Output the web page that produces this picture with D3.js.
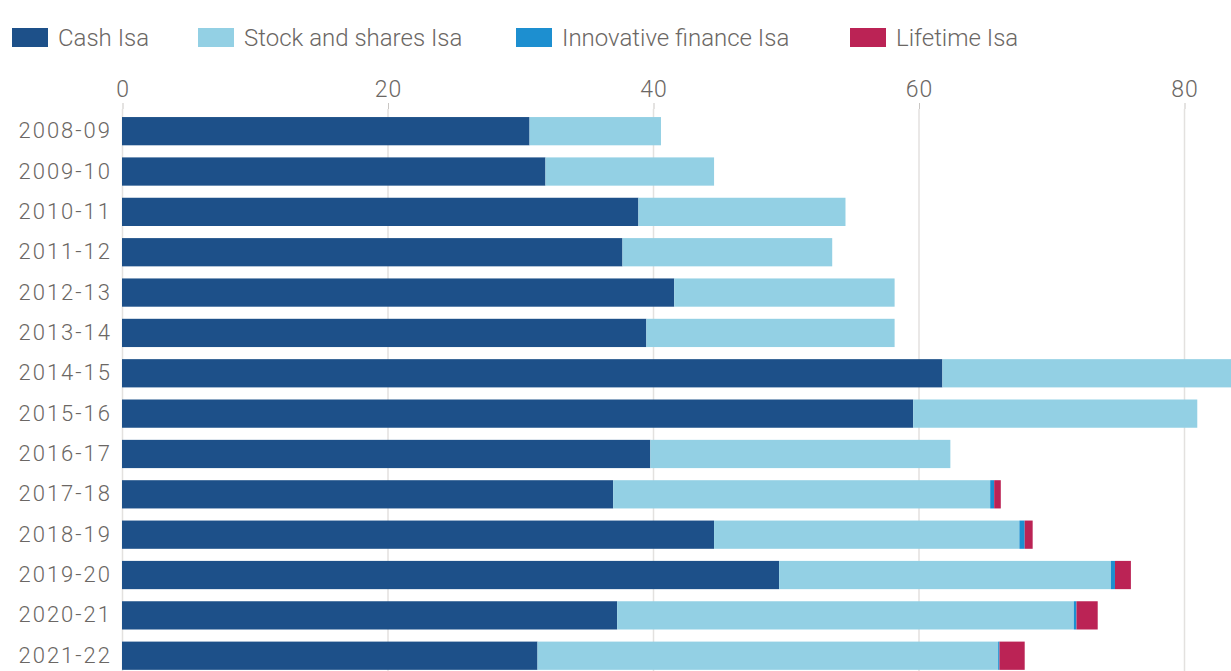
<!DOCTYPE html>
<html>
<head>
<meta charset="utf-8">
<script src="https://cdn.jsdelivr.net/npm/d3@7"></script>
<style>
  body { margin: 0; background: #fff; }
  text { font-family: Roboto, "Open Sans", sans-serif; }
</style>
</head>
<body>
<div id="container"></div>
<script>
/* DATA */
const years = ["2008-09","2009-10","2010-11","2011-12","2012-13","2013-14","2014-15",
  "2015-16","2016-17","2017-18","2018-19","2019-20","2020-21","2021-22"];
const cashIsa = [30.7, 31.9, 38.9, 37.7, 41.6, 39.5, 61.8, 59.6, 39.8, 37.0, 44.6, 49.5, 37.3, 31.3];
const stocksIsa = [9.9, 12.7, 15.6, 15.8, 16.6, 18.7, 22.6, 21.4, 22.6, 28.4, 23.0, 25.0, 34.4, 34.7];
const innovativeIsa = [0, 0, 0, 0, 0, 0, 0, 0, 0, 0.3, 0.4, 0.3, 0.2, 0.1];
const lifetimeIsa = [0, 0, 0, 0, 0, 0, 0, 0, 0, 0.5, 0.6, 1.2, 1.6, 1.9];
const seriesNames = ["Cash Isa", "Stock and shares Isa", "Innovative finance Isa", "Lifetime Isa"];
const seriesColors = ["#1d5089", "#93d0e4", "#1d8fd0", "#bb2355"];
const xTicks = [0, 20, 40, 60, 80];

/* CONSTANTS */
const width = 1231, height = 671;
const margin = {top: 109, left: 122, right: 0, bottom: 0};
const textColor = "#6b6764";

const svg = d3.select("#container")
  .append("svg")
  .attr("width", width)
  .attr("height", height);

const rows = years.map((y, i) => ({
  year: y,
  cash: cashIsa[i],
  stocks: stocksIsa[i],
  innovative: innovativeIsa[i],
  lifetime: lifetimeIsa[i]
}));
const keys = ["cash", "stocks", "innovative", "lifetime"];
const stacked = d3.stack().keys(keys)(rows);

// scales
const xScale = d3.scaleLinear()
  .domain([0, 80])
  .range([margin.left, 1184]);

const yScale = d3.scaleBand()
  .domain(years)
  .range([111, 111 + 40.35 * years.length])
  .paddingInner(0.3)
  .paddingOuter(0.15);

// gridlines
svg.append("g")
  .selectAll("line")
  .data(xTicks)
  .join("line")
  .attr("x1", d => xScale(d) + 0.5)
  .attr("x2", d => xScale(d) + 0.5)
  .attr("y1", margin.top)
  .attr("y2", height)
  .attr("stroke", "#e3e1df")
  .attr("stroke-width", 1.5);

// x axis on top
const xAxis = d3.axisTop(xScale)
  .tickValues(xTicks)
  .tickSize(6)
  .tickPadding(6);
const gx = svg.append("g")
  .attr("transform", `translate(0.5, ${margin.top})`)
  .call(xAxis);
gx.select(".domain").remove();
gx.selectAll("line").attr("stroke", "#c9c6c3");
gx.selectAll("text")
  .attr("fill", textColor)
  .style("font-size", "23px")
  .style("font-weight", "300")
  .style("letter-spacing", "1px")
  .style("font-family", "Roboto, sans-serif");

// bars
svg.append("g")
  .selectAll("g")
  .data(stacked)
  .join("g")
  .attr("fill", (d, i) => seriesColors[i])
  .selectAll("rect")
  .data(d => d)
  .join("rect")
  .attr("x", d => xScale(d[0]))
  .attr("y", d => yScale(d.data.year))
  .attr("width", d => xScale(d[1]) - xScale(d[0]))
  .attr("height", yScale.bandwidth());

// y axis labels
const yAxis = d3.axisLeft(yScale).tickSize(0).tickPadding(10);
const gy = svg.append("g")
  .attr("transform", `translate(${margin.left}, 0)`)
  .call(yAxis);
gy.select(".domain").remove();
gy.selectAll("text")
  .attr("fill", textColor)
  .style("font-size", "22px")
  .style("font-weight", "300")
  .style("letter-spacing", "2px")
  .style("font-family", "Roboto, sans-serif");

// legend
const legendX = [12, 198, 516, 850];
const legend = svg.append("g")
  .selectAll("g")
  .data(seriesNames)
  .join("g")
  .attr("transform", (d, i) => `translate(${legendX[i]}, 28)`);

legend.append("rect")
  .attr("width", 36)
  .attr("height", 19)
  .attr("fill", (d, i) => seriesColors[i]);

legend.append("text")
  .attr("x", 46)
  .attr("y", 18)
  .attr("fill", textColor)
  .style("font-size", "24px")
  .style("font-weight", "300")
  .text(d => d);
</script>
</body>
</html>
